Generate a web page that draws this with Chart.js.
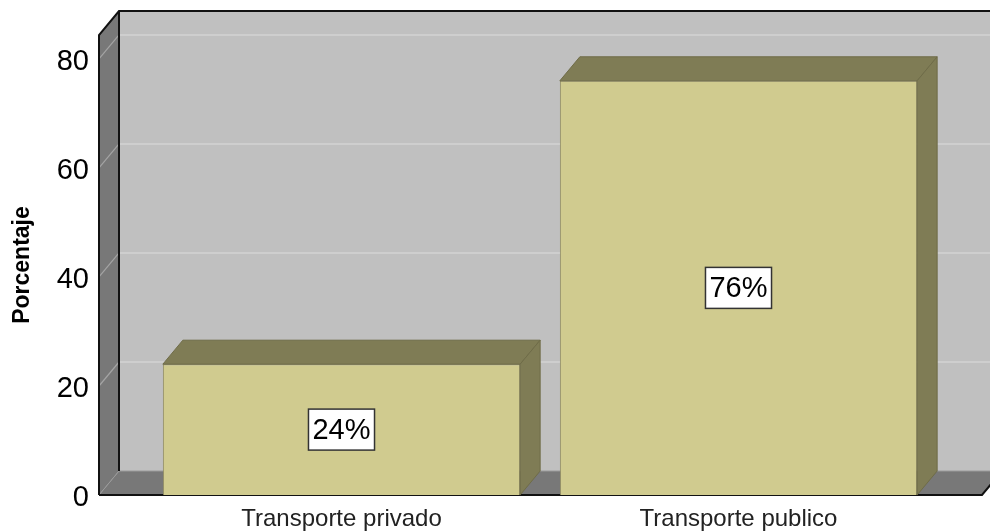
<!DOCTYPE html>
<html>
<head>
<meta charset="utf-8">
<script src="https://cdn.jsdelivr.net/npm/chart.js@4.4.0/dist/chart.umd.min.js"></script>
<style>
    html, body { margin: 0; padding: 0; background: #fff; }
    #chart { display: block; }
</style>
</head>
<body>
<canvas id="chart" width="990" height="531"></canvas>
<script>
// Data
const categories = ['Transporte privado', 'Transporte publico'];
const percentages = [24, 76];
const yTicks = [0, 20, 40, 60, 80];
const yMax = 84.4;

const FONT = "'Liberation Sans', Arial, sans-serif";
const DX = 20, DY = -24;      // depth of the 3D box
const WALL_LEFT = 44;         // walls reach past the category band
const WALL_RIGHT = 45;

const box3d = {
    id: 'box3d',
    beforeDatasetsDraw(chart) {
        const { ctx, chartArea: a, scales: { y } } = chart;
        const L = a.left - WALL_LEFT, R = a.right + WALL_RIGHT;
        const T = a.top, B = a.bottom;
        ctx.save();

        // back wall
        ctx.fillStyle = '#c0c0c0';
        ctx.fillRect(L + DX, T + DY, R - L + 50, B - T);

        // gridlines on back wall
        ctx.strokeStyle = '#d3d3d3';
        ctx.lineWidth = 1.5;
        yTicks.filter(v => v > 0).forEach(v => {
            const yy = y.getPixelForValue(v) + DY;
            ctx.beginPath();
            ctx.moveTo(L + DX, yy);
            ctx.lineTo(R + DX + 50, yy);
            ctx.stroke();
        });

        // side wall
        ctx.fillStyle = '#787878';
        ctx.beginPath();
        ctx.moveTo(L, T);
        ctx.lineTo(L + DX, T + DY);
        ctx.lineTo(L + DX, B + DY);
        ctx.lineTo(L, B);
        ctx.closePath();
        ctx.fill();

        // floor
        ctx.beginPath();
        ctx.moveTo(L, B);
        ctx.lineTo(L + DX, B + DY);
        ctx.lineTo(R + DX, B + DY);
        ctx.lineTo(R, B);
        ctx.closePath();
        ctx.fill();

        // gridlines on side wall
        ctx.strokeStyle = '#a4a4a4';
        ctx.lineWidth = 1.2;
        yTicks.filter(v => v > 0).forEach(v => {
            const yy = y.getPixelForValue(v);
            ctx.beginPath();
            ctx.moveTo(L, yy);
            ctx.lineTo(L + DX, yy + DY);
            ctx.stroke();
        });

        // floor back edge + corner
        ctx.strokeStyle = '#9a9a9a';
        ctx.lineWidth = 1;
        ctx.beginPath();
        ctx.moveTo(L, B);
        ctx.lineTo(L + DX, B + DY);
        ctx.lineTo(R + DX, B + DY);
        ctx.stroke();

        // black outline
        ctx.strokeStyle = '#111';
        ctx.lineWidth = 2;
        ctx.beginPath();
        ctx.moveTo(L, B);
        ctx.lineTo(L, T);
        ctx.lineTo(L + DX, T + DY);
        ctx.lineTo(R + DX + 50, T + DY);
        ctx.moveTo(L + DX, T + DY);
        ctx.lineTo(L + DX, B + DY);
        ctx.moveTo(L, B);
        ctx.lineTo(R, B);
        ctx.lineTo(R + DX, B + DY);
        ctx.stroke();
        ctx.restore();
    },
    afterDatasetsDraw(chart) {
        const { ctx } = chart;
        const meta = chart.getDatasetMeta(0);
        ctx.save();
        meta.data.forEach((bar, i) => {
            const { x, y: top, base, width } = bar.getProps(['x', 'y', 'base', 'width'], true);
            const l = x - width / 2, r = x + width / 2;
            ctx.fillStyle = '#7f7c55';
            ctx.strokeStyle = '#6f6c48';
            ctx.lineWidth = 1;
            // top face
            ctx.beginPath();
            ctx.moveTo(l, top);
            ctx.lineTo(l + DX, top + DY);
            ctx.lineTo(r + DX, top + DY);
            ctx.lineTo(r, top);
            ctx.closePath();
            ctx.fill();
            ctx.stroke();
            // side face
            ctx.beginPath();
            ctx.moveTo(r, top);
            ctx.lineTo(r + DX, top + DY);
            ctx.lineTo(r + DX, base + DY);
            ctx.lineTo(r, base);
            ctx.closePath();
            ctx.fill();
            ctx.stroke();

            // value label
            const text = percentages[i] + '%';
            const cy = (top + base) / 2;
            ctx.font = '29px ' + FONT;
            const w = ctx.measureText(text).width + 8;
            const h = 41;
            ctx.fillStyle = '#ffffff';
            ctx.fillRect(x - w / 2, cy - h / 2, w, h);
            ctx.strokeStyle = '#333';
            ctx.lineWidth = 1.5;
            ctx.strokeRect(x - w / 2, cy - h / 2, w, h);
            ctx.fillStyle = '#000';
            ctx.textAlign = 'center';
            ctx.textBaseline = 'middle';
            ctx.fillText(text, x, cy + 1);
        });
        ctx.restore();
    }
};

new Chart(document.getElementById('chart'), {
    type: 'bar',
    data: {
        labels: categories,
        datasets: [{
            data: percentages,
            backgroundColor: '#d0cb8f',
            borderColor: '#8d895f',
            borderWidth: 1,
            categoryPercentage: 1,
            barPercentage: 0.9
        }]
    },
    options: {
        responsive: false,
        animation: false,
        layout: { padding: { top: 35, right: 53, left: 0, bottom: 0 } },
        plugins: {
            legend: { display: false },
            tooltip: { enabled: false }
        },
        scales: {
            x: {
                grid: { display: false, drawTicks: false },
                border: { display: false },
                ticks: { font: { family: FONT, size: 24 }, color: '#222', padding: 10 },
                afterFit: s => { s.height = 36; }
            },
            y: {
                min: 0,
                max: yMax,
                grid: { display: false, drawTicks: false },
                border: { display: false },
                afterBuildTicks: s => { s.ticks = yTicks.map(v => ({ value: v })); },
                ticks: { font: { family: FONT, size: 29 }, color: '#000', padding: 54, labelOffset: 3 },
                title: {
                    display: true,
                    text: 'Porcentaje',
                    font: { family: FONT, size: 23, weight: 'bold' },
                    color: '#000',
                    padding: { top: 9, bottom: 0 }
                },
                afterFit: s => {
                    s.width = 143;
                    s.paddingTop = 0;
                    s.paddingBottom = 0;
                }
            }
        }
    },
    plugins: [box3d]
});
</script>
</body>
</html>
